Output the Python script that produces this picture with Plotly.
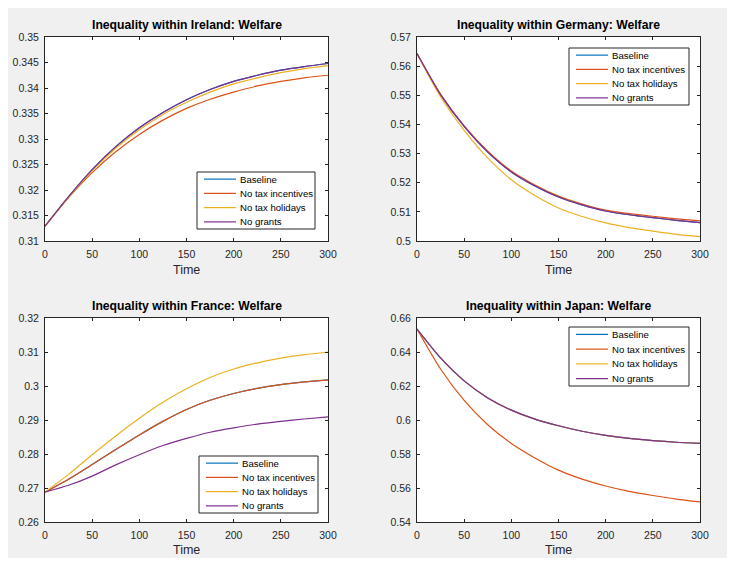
import plotly.graph_objects as go

# ---------------- data ----------------
time = [0, 25, 50, 75, 100, 125, 150, 175, 200, 225, 250, 275, 300]
series_names = ["Baseline", "No tax incentives", "No tax holidays", "No grants"]
series_colors = ["#0072BD", "#D95319", "#EDB120", "#7E2F8E"]

ireland_baseline = [0.3129, 0.3187, 0.3240, 0.3285, 0.3322, 0.3352, 0.3377, 0.3397, 0.3413, 0.3425, 0.3435, 0.3442, 0.3448]
ireland_no_tax_incentives = [0.3129, 0.3185, 0.3234, 0.3275, 0.3309, 0.3337, 0.3360, 0.3378, 0.3392, 0.3404, 0.3413, 0.3420, 0.3425]
ireland_no_tax_holidays = [0.3129, 0.3186, 0.3238, 0.3282, 0.3318, 0.3348, 0.3372, 0.3392, 0.3408, 0.3420, 0.3430, 0.3438, 0.3444]
ireland_no_grants = [0.3129, 0.3187, 0.3240, 0.3285, 0.3322, 0.3352, 0.3377, 0.3397, 0.3413, 0.3425, 0.3435, 0.3442, 0.3448]

germany_baseline = [0.5643, 0.5502, 0.5393, 0.5305, 0.5237, 0.5189, 0.5151, 0.5124, 0.5103, 0.5090, 0.5080, 0.5071, 0.5063]
germany_no_tax_incentives = [0.5643, 0.5503, 0.5395, 0.5308, 0.5240, 0.5192, 0.5154, 0.5127, 0.5106, 0.5094, 0.5085, 0.5076, 0.5069]
germany_no_tax_holidays = [0.5643, 0.5495, 0.5380, 0.5285, 0.5210, 0.5156, 0.5113, 0.5084, 0.5062, 0.5046, 0.5034, 0.5023, 0.5015]
germany_no_grants = [0.5643, 0.5502, 0.5393, 0.5305, 0.5237, 0.5189, 0.5151, 0.5124, 0.5103, 0.5090, 0.5080, 0.5071, 0.5063]

france_baseline = [0.2688, 0.2726, 0.2769, 0.2813, 0.2856, 0.2896, 0.2931, 0.2958, 0.2978, 0.2993, 0.3004, 0.3012, 0.3018]
france_no_tax_incentives = [0.2688, 0.2726, 0.2769, 0.2813, 0.2856, 0.2896, 0.2931, 0.2958, 0.2978, 0.2993, 0.3004, 0.3012, 0.3018]
france_no_tax_holidays = [0.2688, 0.2740, 0.2798, 0.2853, 0.2905, 0.2952, 0.2992, 0.3025, 0.3050, 0.3068, 0.3082, 0.3092, 0.3100]
france_no_grants = [0.2688, 0.2708, 0.2735, 0.2768, 0.2798, 0.2825, 0.2846, 0.2864, 0.2877, 0.2888, 0.2896, 0.2903, 0.2909]

japan_baseline = [0.6535, 0.6365, 0.6230, 0.6130, 0.6058, 0.6005, 0.5966, 0.5934, 0.5910, 0.5892, 0.5879, 0.5869, 0.5862]
japan_no_tax_incentives = [0.6535, 0.6300, 0.6115, 0.5972, 0.5862, 0.5777, 0.5705, 0.5652, 0.5612, 0.5580, 0.5556, 0.5535, 0.5518]
japan_no_tax_holidays = [0.6535, 0.6365, 0.6230, 0.6130, 0.6058, 0.6005, 0.5966, 0.5934, 0.5910, 0.5892, 0.5879, 0.5869, 0.5862]
japan_no_grants = [0.6535, 0.6365, 0.6230, 0.6130, 0.6058, 0.6005, 0.5966, 0.5934, 0.5910, 0.5892, 0.5879, 0.5869, 0.5862]

x_ticks = [0, 50, 100, 150, 200, 250, 300]
x_ticktext = ["0", "50", "100", "150", "200", "250", "300"]

ireland_yticks = [0.31, 0.315, 0.32, 0.325, 0.33, 0.335, 0.34, 0.345, 0.35]
ireland_yticktext = ["0.31", "0.315", "0.32", "0.325", "0.33", "0.335", "0.34", "0.345", "0.35"]
germany_yticks = [0.5, 0.51, 0.52, 0.53, 0.54, 0.55, 0.56, 0.57]
germany_yticktext = ["0.5", "0.51", "0.52", "0.53", "0.54", "0.55", "0.56", "0.57"]
france_yticks = [0.26, 0.27, 0.28, 0.29, 0.3, 0.31, 0.32]
france_yticktext = ["0.26", "0.27", "0.28", "0.29", "0.3", "0.31", "0.32"]
japan_yticks = [0.54, 0.56, 0.58, 0.6, 0.62, 0.64, 0.66]
japan_yticktext = ["0.54", "0.56", "0.58", "0.6", "0.62", "0.64", "0.66"]

titles = ["Inequality within Ireland: Welfare", "Inequality within Germany: Welfare",
          "Inequality within France: Welfare", "Inequality within Japan: Welfare"]
x_label = "Time"

# ---------------- layout geometry (page pixels; page body has an 8px margin) ----------------
OFF = 8
W, H = 735 - 2 * OFF, 566 - 2 * OFF


def px_x(p):
    return (p - OFF) / W


def px_y(p):
    return (OFF + H - p) / H


panels = [
    dict(series=[ireland_baseline, ireland_no_tax_incentives, ireland_no_tax_holidays, ireland_no_grants],
         yr=[0.31, 0.35], yt=ireland_yticks, ytt=ireland_yticktext,
         box=(45, 328, 37, 241), leg=(197, 315, 172, 229), xlab_y=270),
    dict(series=[germany_baseline, germany_no_tax_incentives, germany_no_tax_holidays, germany_no_grants],
         yr=[0.5, 0.57], yt=germany_yticks, ytt=germany_yticktext,
         box=(417, 700, 37, 241), leg=(569, 689, 48, 105), xlab_y=270),
    dict(series=[france_baseline, france_no_tax_incentives, france_no_tax_holidays, france_no_grants],
         yr=[0.26, 0.32], yt=france_yticks, ytt=france_yticktext,
         box=(45, 328, 318, 522), leg=(199, 318, 456, 513), xlab_y=550),
    dict(series=[japan_baseline, japan_no_tax_incentives, japan_no_tax_holidays, japan_no_grants],
         yr=[0.54, 0.66], yt=japan_yticks, ytt=japan_yticktext,
         box=(417, 700, 318, 522), leg=(569, 689, 327, 386), xlab_y=550),
]

axis_color = "#262626"
font_family = "Arial, Liberation Sans, Helvetica, sans-serif"

fig = go.Figure()
layout = dict(
    width=W, height=H,
    paper_bgcolor="#F0F0F0", plot_bgcolor="#FFFFFF",
    margin=dict(l=0, r=0, t=0, b=0, pad=0, autoexpand=False),
    font=dict(family=font_family, size=10, color=axis_color),
    showlegend=False,
    annotations=[],
    shapes=[],
)

for i, p in enumerate(panels):
    n = i + 1
    xa = "x" if n == 1 else f"x{n}"
    ya = "y" if n == 1 else f"y{n}"
    for name, col, vals in zip(series_names, series_colors, p["series"]):
        fig.add_trace(go.Scatter(
            x=time, y=vals, mode="lines", name=name,
            line=dict(color=col, width=1.2, shape="spline", smoothing=0.7),
            xaxis=xa, yaxis=ya,
        ))
    x0, x1, y0, y1 = p["box"]
    common = dict(showline=True, linecolor=axis_color, linewidth=1, mirror="ticks",
                  ticks="inside", ticklen=3, tickcolor=axis_color, showgrid=False,
                  zeroline=False, tickfont=dict(size=10.5, color=axis_color), ticklabelstandoff=3,
                  automargin=False)
    layout[f"xaxis{'' if n == 1 else n}"] = dict(
        domain=[px_x(x0), px_x(x1)], range=[0, 300], anchor=ya,
        tickvals=x_ticks, ticktext=x_ticktext, **common)
    layout[f"yaxis{'' if n == 1 else n}"] = dict(
        domain=[px_y(y1), px_y(y0)], range=p["yr"], anchor=xa,
        tickvals=p["yt"], ticktext=p["ytt"], **common)
    # subplot title
    layout["annotations"].append(dict(
        text=f"<b>{titles[i]}</b>", x=(px_x(x0) + px_x(x1)) / 2, y=px_y(y0 - 3),
        xref="paper", yref="paper", xanchor="center", yanchor="bottom", showarrow=False,
        font=dict(size=12.2, color="#000000"),
    ))
    # x-axis label
    layout["annotations"].append(dict(
        text=x_label, x=(px_x(x0) + px_x(x1)) / 2, y=px_y(p["xlab_y"]),
        xref="paper", yref="paper", xanchor="center", yanchor="middle", showarrow=False,
        font=dict(size=12.5, color=axis_color),
    ))

    # legend box (MATLAB-style compact legend)
    lx0, lx1, ly0, ly1 = p["leg"]
    layout["shapes"].append(dict(
        type="rect", xref="paper", yref="paper",
        x0=px_x(lx0), x1=px_x(lx1), y0=px_y(ly1), y1=px_y(ly0),
        fillcolor="#FFFFFF", line=dict(color=axis_color, width=1), layer="above",
    ))
    row_h = (ly1 - ly0) / 4.0
    for k, (name, col) in enumerate(zip(series_names, series_colors)):
        yc = ly0 + row_h * (k + 0.5)
        layout["shapes"].append(dict(
            type="line", xref="paper", yref="paper",
            x0=px_x(lx0 + 7), x1=px_x(lx0 + 39), y0=px_y(yc), y1=px_y(yc),
            line=dict(color=col, width=1.2), layer="above",
        ))
        layout["annotations"].append(dict(
            text=name, x=px_x(lx0 + 41), y=px_y(yc), xref="paper", yref="paper",
            xanchor="left", yanchor="middle", showarrow=False,
            font=dict(size=9.6, color="#000000"),
        ))

fig.update_layout(**layout)
fig.write_html("out.html")
